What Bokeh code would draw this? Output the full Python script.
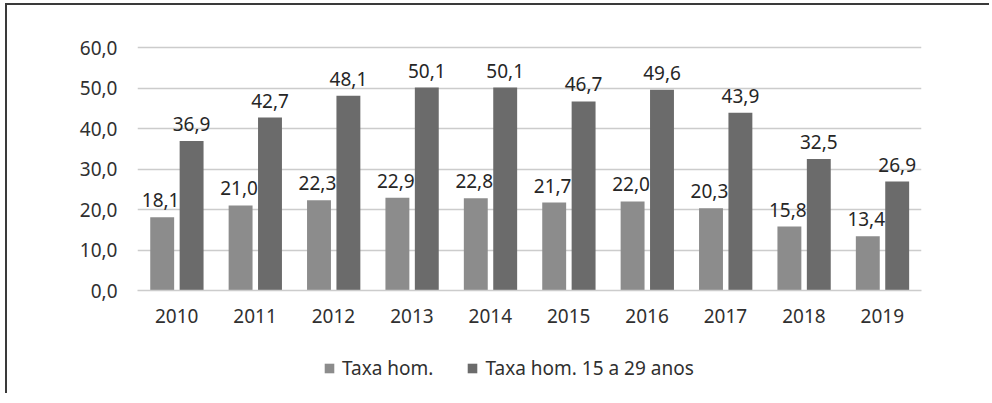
from bokeh.plotting import figure
from bokeh.layouts import column
from bokeh.models import (ColumnDataSource, Range1d, FactorRange, FixedTicker, Legend, LegendItem,
                          InlineStyleSheet)
from bokeh.transform import dodge
from bokeh.embed import file_html
from bokeh.resources import INLINE

years = ["2010", "2011", "2012", "2013", "2014", "2015", "2016", "2017", "2018", "2019"]
taxa_hom = [18.1, 21.0, 22.3, 22.9, 22.8, 21.7, 22.0, 20.3, 15.8, 13.4]
taxa_jovens = [36.9, 42.7, 48.1, 50.1, 50.1, 46.7, 49.6, 43.9, 32.5, 26.9]
y_ticks = [0, 10, 20, 30, 40, 50, 60]
y_tick_labels = ["0,0", "10,0", "20,0", "30,0", "40,0", "50,0", "60,0"]
series_names = ["Taxa hom.", "Taxa hom. 15 a 29 anos"]

def fmt(v):
    return f"{v:.1f}".replace(".", ",")

src = ColumnDataSource(dict(
    year=years,
    a=taxa_hom,
    b=taxa_jovens,
    a_lab=[fmt(v) for v in taxa_hom],
    b_lab=[fmt(v) for v in taxa_jovens],
))

FONT = "Noto Sans"
FS = "19px"
C_LIGHT = "#8c8c8c"
C_DARK = "#6b6b6b"
BORDER = "2px solid #3a3a3a"

# ---- main chart ----
p = figure(width=984, height=340, x_range=FactorRange(*years), y_range=Range1d(0, 60.5),
           output_backend="svg", toolbar_location=None,
           min_border_left=130, min_border_right=70, min_border_top=40, min_border_bottom=55)
p.stylesheets = [InlineStyleSheet(css=f":host {{ border-left: {BORDER}; border-top: {BORDER}; }}")]
p.outline_line_color = None
p.background_fill_color = "white"

ra = p.vbar(x=dodge("year", -0.185, range=p.x_range), top="a", width=0.305, source=src,
            fill_color=C_LIGHT, line_color=None)
rb = p.vbar(x=dodge("year", 0.19, range=p.x_range), top="b", width=0.305, source=src,
            fill_color=C_DARK, line_color=None)

p.text(x=dodge("year", -0.205, range=p.x_range), y="a", text="a_lab", source=src,
       text_align="center", text_baseline="alphabetic", y_offset=-17,
       text_font={"value": FONT}, text_font_size=FS, text_color="#262626")
p.text(x=dodge("year", 0.19, range=p.x_range), y="b", text="b_lab", source=src,
       text_align="center", text_baseline="alphabetic", y_offset=-17,
       text_font={"value": FONT}, text_font_size=FS, text_color="#262626")

p.yaxis.ticker = FixedTicker(ticks=y_ticks)
p.yaxis.major_label_overrides = {t: l for t, l in zip(y_ticks, y_tick_labels)}
for ax in (p.xaxis, p.yaxis):
    ax.axis_line_color = None
    ax.major_tick_line_color = None
    ax.minor_tick_line_color = None
    ax.major_tick_in = 0
    ax.major_tick_out = 0
    ax.major_label_text_font = FONT
    ax.major_label_text_font_size = FS
    ax.major_label_text_color = "#303030"
p.xaxis.axis_line_color = "#cccccc"
p.xaxis.axis_line_width = 1.5
p.yaxis.major_label_standoff = 20
p.xaxis.major_label_standoff = 18

p.xgrid.grid_line_color = None
p.ygrid.ticker = FixedTicker(ticks=y_ticks)
p.ygrid.grid_line_color = "#cccccc"
p.ygrid.grid_line_width = 1.5

# ---- legend strip (bars of the same data, kept out of view; only the legend shows) ----
lg = figure(width=984, height=50, x_range=p.x_range, y_range=Range1d(100, 101),
            output_backend="svg", toolbar_location=None, x_axis_type=None, y_axis_type=None,
            min_border_left=0, min_border_right=0, min_border_top=0, min_border_bottom=0)
lg.stylesheets = [InlineStyleSheet(css=f":host {{ border-left: {BORDER}; }}")]
lg.outline_line_color = None
lg.xgrid.visible = False
lg.ygrid.visible = False
la = lg.vbar(x=dodge("year", -0.185, range=p.x_range), top="a", width=0.305, source=src,
             fill_color=C_LIGHT, line_color=None)
lb = lg.vbar(x=dodge("year", 0.19, range=p.x_range), top="b", width=0.305, source=src,
             fill_color=C_DARK, line_color=None)
legend = Legend(items=[LegendItem(label=series_names[0], renderers=[la]),
                       LegendItem(label=series_names[1], renderers=[lb])],
                orientation="horizontal", location=(186, 12),
                label_text_font=FONT, label_text_font_size=FS, label_text_color="#303030",
                glyph_width=12, glyph_height=12, label_standoff=7, spacing=33,
                padding=0, margin=0, border_line_color=None, background_fill_alpha=0)
lg.add_layout(legend, "center")

page = column(p, lg, spacing=0)
page.stylesheets = [InlineStyleSheet(css=":host { margin-left: 5px; margin-top: 3px; }")]
open("out.html", "w").write(file_html(page, INLINE))
